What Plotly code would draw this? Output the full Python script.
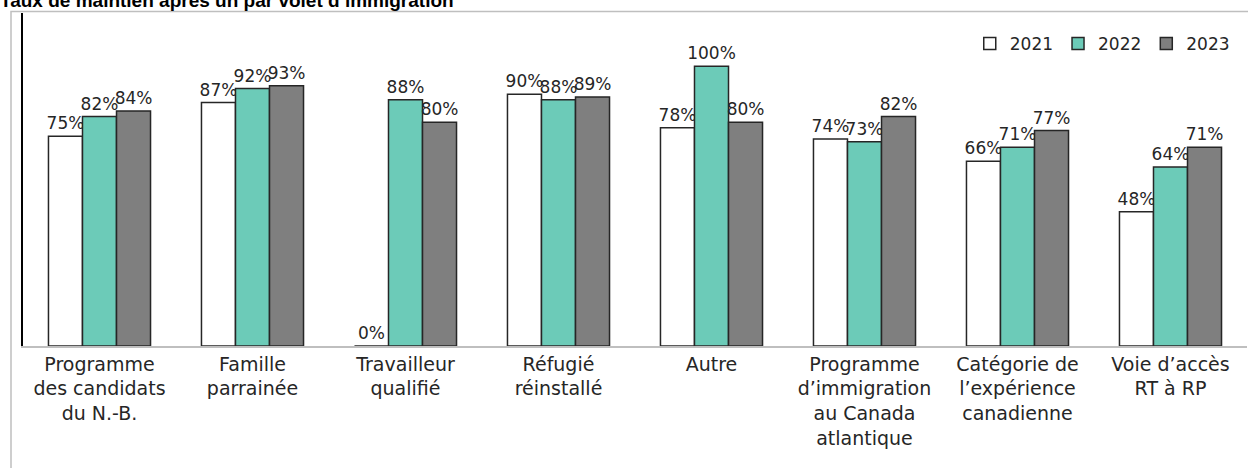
import plotly.graph_objects as go

categories = [
    "Programme<br>des candidats<br>du N.-B.",
    "Famille<br>parrainée",
    "Travailleur<br>qualifié",
    "Réfugié<br>réinstallé",
    "Autre",
    "Programme<br>d’immigration<br>au Canada<br>atlantique",
    "Catégorie de<br>l’expérience<br>canadienne",
    "Voie d’accès<br>RT à RP",
]
series_names = ["2021", "2022", "2023"]
values_2021 = [0.75, 0.87, 0.00, 0.90, 0.78, 0.74, 0.66, 0.48]
values_2022 = [0.82, 0.92, 0.88, 0.88, 1.00, 0.73, 0.71, 0.64]
values_2023 = [0.84, 0.93, 0.80, 0.89, 0.80, 0.82, 0.77, 0.71]
colors = ["#FFFFFF", "#6CCBB8", "#7F7F7F"]
title_text = "Taux de maintien après un par volet d’immigration"

FONT = "DejaVu Sans"
TXT = "#262626"

fig = go.Figure()
for name, vals, col in zip(series_names, [values_2021, values_2022, values_2023], colors):
    fig.add_trace(go.Bar(
        name=name, x=categories, y=vals,
        marker=dict(color=col, line=dict(color="#262626", width=1.5)),
        text=[f"{round(v*100)}%" for v in vals],
        textposition="outside", constraintext="none", cliponaxis=False,
        textfont=dict(family=FONT, size=17, color=TXT),
    ))

W, H = 1248, 468
ml, mr, mt, mb = 23, 1, 13, 122
pw, ph = W - ml - mr, H - mt - mb

fig.update_layout(
    width=W, height=H,
    margin=dict(l=ml, r=mr, t=mt, b=mb, autoexpand=False),
    paper_bgcolor="white", plot_bgcolor="white",
    barmode="group", bargap=0.333, bargroupgap=0,
    font=dict(family=FONT, color=TXT),
    title=dict(text=title_text, x=0, xref="container", xanchor="left",
               y=1.0, yref="container", yanchor="middle", automargin=False,
               font=dict(family="Liberation Sans", size=19, color="#000000", weight="bold")),
    legend=dict(orientation="h", x=0.99, xanchor="right", y=0.907, yanchor="middle",
                font=dict(family=FONT, size=17, color=TXT), bgcolor="rgba(0,0,0,0)",
                itemwidth=30, traceorder="normal"),
    xaxis=dict(showline=True, linecolor="#BFBFBF", linewidth=1.5, ticks="", automargin=False,
               tickfont=dict(family=FONT, size=19, color=TXT), showgrid=False),
    yaxis=dict(range=[0, 1.19], showline=True, linecolor="#000000", linewidth=1.5, automargin=False,
               showticklabels=False, showgrid=False, zeroline=False, ticks=""),
    showlegend=True,
)

# outer chart border (light gray frame, cropped on right and bottom)
fig.add_shape(type="rect", xref="paper", yref="paper",
              x0=(11 - ml) / pw, x1=1.05, y0=-0.5, y1=1 + 1.5 / ph,
              line=dict(color="#BFBFBF", width=1.5), fillcolor="rgba(0,0,0,0)", layer="below")

fig.write_html(
    "out.html",
    config={"displayModeBar": False},
    post_script="document.body.style.margin='0';document.body.style.overflow='hidden';",
)
